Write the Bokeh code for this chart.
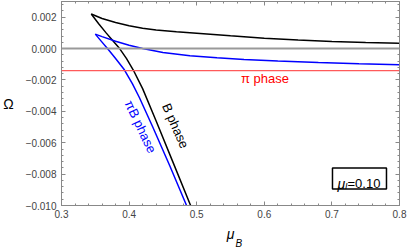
from bokeh.plotting import figure
from bokeh.models import (Range1d, FixedTicker, CustomJSTickFormatter, LinearAxis,
                          Span, CustomLabelingPolicy)
from bokeh.core.properties import value
from bokeh.embed import file_html
from bokeh.resources import INLINE

# ---- data ----
b_upper_mu = [0.344, 0.36, 0.38, 0.40, 0.42, 0.44, 0.47, 0.50, 0.55, 0.60, 0.65, 0.70, 0.75, 0.80]
b_upper_om = [0.00220, 0.00192, 0.00166, 0.00145, 0.00130, 0.00119, 0.00108, 0.00098,
              0.00081, 0.00066, 0.00054, 0.00045, 0.00039, 0.00034]
b_lower_mu = [0.344, 0.355, 0.366, 0.376, 0.386, 0.396, 0.406, 0.42, 0.44, 0.465, 0.491]
b_lower_om = [0.00220, 0.00158, 0.00100, 0.00050, 0.00000, -0.00062, -0.00135,
              -0.00255, -0.00462, -0.00725, -0.01000]
pib_upper_mu = [0.350, 0.36, 0.38, 0.40, 0.42, 0.45, 0.49, 0.53, 0.57, 0.62, 0.68, 0.74, 0.80]
pib_upper_om = [0.00092, 0.00076, 0.00047, 0.00021, 0.00000, -0.00025, -0.00046,
                -0.00059, -0.00069, -0.00079, -0.00089, -0.00097, -0.00103]
pib_lower_mu = [0.350, 0.359, 0.368, 0.380, 0.393, 0.405, 0.415, 0.435, 0.46, 0.485]
pib_lower_om = [0.00092, 0.00046, 0.00000, -0.00063, -0.00135, -0.00225, -0.00310,
                -0.00500, -0.00745, -0.01000]
zero_level = 0.0
pi_phase_level = -0.0014

x_ticks = [0.3, 0.4, 0.5, 0.6, 0.7, 0.8]
x_minor = [round(0.3 + 0.02 * i, 4) for i in range(26)]
y_ticks = [-0.010, -0.008, -0.006, -0.004, -0.002, 0.000, 0.002]
y_minor = [round(-0.010 + 0.0004 * i, 5) for i in range(33)]

FONT = "Liberation Sans"

p = figure(width=407, height=251, output_backend="svg", toolbar_location=None,
           x_range=Range1d(0.3, 0.8), y_range=Range1d(-0.010, 0.003),
           min_border_left=60, min_border_right=8, min_border_top=1,
           min_border_bottom=40)
p.grid.visible = False
p.outline_line_color = "#888888"
p.background_fill_color = "white"
p.border_fill_color = "white"

xfmt = CustomJSTickFormatter(code="return tick.toFixed(1);")
yfmt = CustomJSTickFormatter(code="var s = Math.abs(tick).toFixed(3); return (tick < -1e-9 ? '\u2212' : '') + s;")
no_labels = CustomLabelingPolicy(code="return new Set();")

def style_axis(ax, show_labels):
    ax.axis_line_color = "#888888"
    ax.major_tick_line_color = "#888888"
    ax.minor_tick_line_color = "#888888"
    ax.major_tick_in = 4
    ax.major_tick_out = 0
    ax.minor_tick_in = 2
    ax.minor_tick_out = 0
    ax.major_label_text_font = FONT
    ax.major_label_text_color = "#444444"
    if show_labels:
        ax.major_label_text_font_size = "10px"
    else:
        ax.major_label_text_font_size = "0px"
        ax.major_label_policy = no_labels
        ax.major_label_standoff = 0

p.xaxis.ticker = FixedTicker(ticks=x_ticks, minor_ticks=x_minor)
p.xaxis.formatter = xfmt
p.yaxis.ticker = FixedTicker(ticks=y_ticks, minor_ticks=y_minor)
p.yaxis.formatter = yfmt
style_axis(p.xaxis[0], True)
style_axis(p.yaxis[0], True)
p.xaxis.major_label_standoff = 4
p.yaxis.major_label_standoff = 5

p.yaxis.axis_label = "\u03a9"
p.yaxis.axis_label_orientation = "horizontal"
p.yaxis.axis_label_text_font = FONT
p.yaxis.axis_label_text_font_style = "normal"
p.yaxis.axis_label_text_font_size = "14px"
p.yaxis.axis_label_text_color = "black"
p.yaxis.axis_label_standoff = 9

p.xaxis.axis_label = "\u03bc"
p.xaxis.axis_label_text_font = FONT
p.xaxis.axis_label_text_font_style = "italic"
p.xaxis.axis_label_text_font_size = "14px"
p.xaxis.axis_label_text_color = "black"
p.xaxis.axis_label_standoff = 5

top = LinearAxis(ticker=FixedTicker(ticks=x_ticks, minor_ticks=x_minor), formatter=xfmt)
right = LinearAxis(ticker=FixedTicker(ticks=y_ticks, minor_ticks=y_minor), formatter=yfmt)
style_axis(top, False)
style_axis(right, False)
p.add_layout(top, "above")
p.add_layout(right, "right")

# subscript "B" of the x-axis title, drawn as a tick label of a bare axis
sub_pos = 0.5625
sub_axis = LinearAxis(ticker=FixedTicker(ticks=[sub_pos], minor_ticks=[]),
                      formatter=CustomJSTickFormatter(code="return 'B';"))
sub_axis.axis_line_color = None
sub_axis.major_tick_line_color = None
sub_axis.minor_tick_line_color = None
sub_axis.major_label_text_font = FONT
sub_axis.major_label_text_font_style = "italic"
sub_axis.major_label_text_font_size = "10px"
sub_axis.major_label_text_color = "black"
sub_axis.major_label_standoff = -13
p.add_layout(sub_axis, "below")

p.add_layout(Span(location=zero_level, dimension="width", line_color="#999999", line_width=2))
p.add_layout(Span(location=pi_phase_level, dimension="width", line_color="#ff5a5a", line_width=1.2))

p.line(b_upper_mu, b_upper_om, line_color="black", line_width=1.5)
p.line(b_lower_mu, b_lower_om, line_color="black", line_width=1.5)
p.line(pib_upper_mu, pib_upper_om, line_color="#0000ff", line_width=1.5)
p.line(pib_lower_mu, pib_lower_om, line_color="#0000ff", line_width=1.5)

p.text(x=[0.601], y=[-0.00188], text=["\u03c0 phase"], text_align="center",
       text_baseline="middle", text_font=value(FONT), text_font_size="13px",
       text_color="#ff0000")
p.text(x=[0.4686], y=[-0.00492], text=["B phase"], angle=-1.16, text_align="center",
       text_baseline="middle", text_font=value(FONT), text_font_size="13px",
       text_color="black")
p.text(x=[0.4169], y=[-0.00498], text=["\u03c0B phase"], angle=-1.13, text_align="center",
       text_baseline="middle", text_font=value(FONT), text_font_size="13px",
       text_color="#0000ff")

# parameter box
bx, by = 0.7408, -0.00828
p.rect(x=[bx], y=[by], width=54, height=21, width_units="screen", height_units="screen",
       fill_color="white", line_color="black", line_width=1.5)
p.text(x=[bx], y=[by], text=["\u03bc"], x_offset=-22, y_offset=5, text_align="left",
       text_baseline="alphabetic", text_font=value(FONT), text_font_style="italic",
       text_font_size="14px", text_color="black")
p.text(x=[bx], y=[by], text=["I"], x_offset=-14.5, y_offset=7, text_align="left",
       text_baseline="alphabetic", text_font=value(FONT), text_font_style="italic",
       text_font_size="9px", text_color="black")
p.text(x=[bx], y=[by], text=["=0.10"], x_offset=-12, y_offset=5, text_align="left",
       text_baseline="alphabetic", text_font=value(FONT),
       text_font_size="13px", text_color="black")

open("out.html", "w").write(file_html(p, INLINE))
